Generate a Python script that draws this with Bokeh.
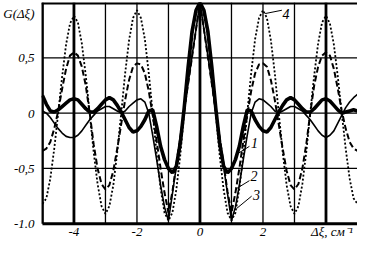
from bokeh.plotting import figure
from bokeh.models import FixedTicker, Range1d, Span, ColumnDataSource
from bokeh.core.properties import value
from bokeh.embed import file_html
from bokeh.resources import INLINE

x = [-5.0, -4.875, -4.75, -4.625, -4.5, -4.375, -4.25, -4.125, -4.0, -3.875,
     -3.75, -3.625, -3.5, -3.375, -3.25, -3.125, -3.0, -2.875, -2.75, -2.625,
     -2.5, -2.375, -2.25, -2.125, -2.0, -1.875, -1.75, -1.625, -1.5, -1.375,
     -1.25, -1.125, -1.0, -0.875, -0.75, -0.625, -0.5, -0.375, -0.25, -0.125,
     0.0,
     0.125, 0.25, 0.375, 0.5, 0.625, 0.75, 0.875, 1.0, 1.125, 1.25,
     1.375, 1.5, 1.625, 1.75, 1.875, 2.0, 2.125, 2.25, 2.375, 2.5,
     2.625, 2.75, 2.875, 3.0, 3.125, 3.25, 3.375, 3.5, 3.625, 3.75,
     3.875, 4.0, 4.125, 4.25, 4.375, 4.5, 4.625, 4.75, 4.875, 5.0]

# curve 1 (thick solid)
g1 = [0.16, 0.08, 0.02, 0.01, 0.03, 0.06, 0.09, 0.12, 0.13, 0.12,
      0.08, 0.04, 0.01, 0.01, 0.04, 0.08, 0.12, 0.14, 0.12, 0.07,
      0.01, -0.06, -0.13, -0.17, -0.16, -0.12, -0.06, 0.02, 0.03, -0.12,
      -0.30, -0.42, -0.50, -0.54, -0.48, -0.27, 0.05, 0.42, 0.74, 0.93,
      1.00,
      0.93, 0.74, 0.42, 0.05, -0.27, -0.48, -0.54, -0.50, -0.42, -0.30,
      -0.12, 0.03, 0.02, -0.06, -0.12, -0.16, -0.17, -0.13, -0.06, 0.01,
      0.07, 0.12, 0.14, 0.12, 0.08, 0.04, 0.01, 0.01, 0.04, 0.08,
      0.12, 0.13, 0.11, 0.07, 0.03, 0.00, 0.01, 0.02, 0.03, 0.02]

# curve 2 (dashed)
g2 = [-0.34, -0.32, -0.26, -0.14, 0.02, 0.22, 0.40, 0.52, 0.55, 0.52,
      0.42, 0.25, 0.00, -0.28, -0.50, -0.64, -0.69, -0.65, -0.52, -0.32,
      -0.10, 0.12, 0.30, 0.42, 0.45, 0.44, 0.36, 0.20, -0.02, -0.25,
      -0.50, -0.72, -0.90, -0.71, -0.46, -0.22, 0.02, 0.27, 0.51, 0.76,
      1.00,
      0.76, 0.51, 0.27, 0.02, -0.22, -0.46, -0.71, -0.90, -0.72, -0.50,
      -0.25, -0.02, 0.20, 0.36, 0.44, 0.45, 0.42, 0.30, 0.12, -0.10,
      -0.32, -0.52, -0.65, -0.69, -0.64, -0.50, -0.28, 0.00, 0.25, 0.42,
      0.52, 0.55, 0.52, 0.40, 0.22, 0.02, -0.14, -0.26, -0.32, -0.34]

# curve 3 (thin solid)
g3 = [0.02, 0.00, -0.04, -0.09, -0.14, -0.18, -0.21, -0.22, -0.22, -0.20,
      -0.16, -0.11, -0.06, -0.02, 0.02, 0.04, 0.06, 0.06, 0.04, 0.02,
      0.00, 0.02, 0.06, 0.09, 0.12, 0.13, 0.10, 0.00, -0.20, -0.42,
      -0.65, -0.85, -0.97, -0.73, -0.48, -0.23, 0.02, 0.27, 0.52, 0.76,
      1.00,
      0.76, 0.52, 0.27, 0.02, -0.23, -0.48, -0.73, -0.97, -0.85, -0.65,
      -0.42, -0.20, 0.00, 0.10, 0.13, 0.12, 0.09, 0.06, 0.02, 0.00,
      0.02, 0.04, 0.06, 0.06, 0.04, 0.02, -0.02, -0.06, -0.11, -0.16,
      -0.20, -0.22, -0.20, -0.16, -0.09, -0.02, 0.05, 0.10, 0.14, 0.17]

# curve 4 (dotted)
g4 = [-0.82, -0.77, -0.59, -0.32, 0.00, 0.33, 0.62, 0.81, 0.88, 0.82,
      0.63, 0.34, 0.00, -0.35, -0.64, -0.84, -0.91, -0.84, -0.65, -0.35,
      0.00, 0.36, 0.66, 0.86, 0.93, 0.86, 0.67, 0.36, 0.00, -0.37,
      -0.68, -0.90, -0.97, -0.90, -0.69, -0.38, 0.00, 0.38, 0.70, 0.92,
      1.00,
      0.92, 0.70, 0.38, 0.00, -0.38, -0.69, -0.90, -0.97, -0.90, -0.68,
      -0.37, 0.00, 0.36, 0.67, 0.86, 0.93, 0.86, 0.66, 0.36, 0.00,
      -0.35, -0.65, -0.84, -0.91, -0.84, -0.64, -0.35, 0.00, 0.34, 0.63,
      0.82, 0.88, 0.81, 0.62, 0.33, 0.00, -0.32, -0.59, -0.77, -0.82]

x_tick_pos = [-4, -2, 0, 2, 4.85]
x_tick_text = ["-4", "-2", "0", "2", "Δξ, см⁻¹"]
x_tick_align = ["center", "center", "center", "center", "right"]
y_ticks = [-1.0, -0.5, 0.0, 0.5, 0.9]
y_tick_labels = {-1.0: "-1.0", -0.5: "-0,5", 0.0: "0", 0.5: "0,5", 0.9: "G(Δξ)"}
thin_x_grid = [-3, -2, -1, 1, 2, 3]
thick_x_grid = [-5, -4, 0, 4]
y_grid = [-0.5, 0.0, 0.5]
x_min, x_max = -5.0, 5.0
y_min, y_max = -1.0, 1.0

curve_labels = ["1", "2", "3", "4"]
label_x = [1.62, 1.60, 1.68, 2.62]
label_y = [-0.27, -0.57, -0.74, 0.90]
lead_x0 = [1.57, 1.57, 1.64, 2.07]
lead_y0 = [-0.30, -0.61, -0.75, 0.90]
lead_x1 = [1.23, 1.17, 1.17, 2.60]
lead_y1 = [-0.36, -0.68, -0.86, 0.93]

FONT = "Liberation Serif"

p = figure(width=357, height=241, x_range=Range1d(-5.03, 5), y_range=Range1d(-1.16, 1),
           output_backend="svg", toolbar_location=None,
           min_border_left=40, min_border_right=0, min_border_top=2, min_border_bottom=0)
p.outline_line_color = None
p.background_fill_color = "white"
p.xaxis.visible = False
p.xgrid.visible = False
p.ygrid.visible = False

ax = p.yaxis[0]
ax.axis_line_color = None
ax.major_tick_line_color = None
ax.minor_tick_line_color = None
ax.major_tick_out = 0
ax.major_tick_in = 0
ax.minor_tick_out = 0
ax.minor_tick_in = 0
ax.major_label_text_font = FONT
ax.major_label_text_font_style = "italic"
ax.major_label_text_font_size = "13px"
ax.major_label_text_color = "black"
ax.ticker = FixedTicker(ticks=y_ticks)
ax.major_label_overrides = y_tick_labels
ax.major_label_standoff = 7

# grid lines and frame edges, drawn between the data limits
p.segment(x0=thin_x_grid, y0=[y_min] * len(thin_x_grid), x1=thin_x_grid,
          y1=[y_max] * len(thin_x_grid), line_color="black", line_width=1.3)
p.segment(x0=[x_min] * len(y_grid), y0=y_grid, x1=[x_max] * len(y_grid), y1=y_grid,
          line_color="black", line_width=1.3)
p.segment(x0=thick_x_grid, y0=[y_min] * len(thick_x_grid), x1=thick_x_grid,
          y1=[y_max] * len(thick_x_grid), line_color="black", line_width=2.8)
p.add_layout(Span(location=y_max, dimension="width", line_color="black", line_width=4))
p.segment(x0=[x_min], y0=[y_min], x1=[x_max], y1=[y_min], line_color="black", line_width=3)

p.line(x, g4, line_color="black", line_width=1.8, line_dash="2 2")
p.line(x, g2, line_color="black", line_width=2, line_dash="6 3")
p.line(x, g3, line_color="black", line_width=1.6)
p.line(x, g1, line_color="black", line_width=3.6)

tick_src = ColumnDataSource(dict(x=x_tick_pos, y=[-1.07] * len(x_tick_pos), t=x_tick_text,
                                 a=x_tick_align))
p.text(x="x", y="y", text="t", text_align="a", source=tick_src, text_font=value(FONT),
       text_font_style="italic", text_font_size="13px", text_baseline="middle",
       text_color="black")

p.segment(x0=lead_x0, y0=lead_y0, x1=lead_x1, y1=lead_y1, line_color="black", line_width=1)
src = ColumnDataSource(dict(x=label_x, y=label_y, t=curve_labels))
p.text(x="x", y="y", text="t", source=src, text_font=value(FONT), text_font_style="italic",
       text_font_size="14px", text_baseline="middle", text_align="left", text_color="black")

open("out.html", "w").write(file_html(p, INLINE))
